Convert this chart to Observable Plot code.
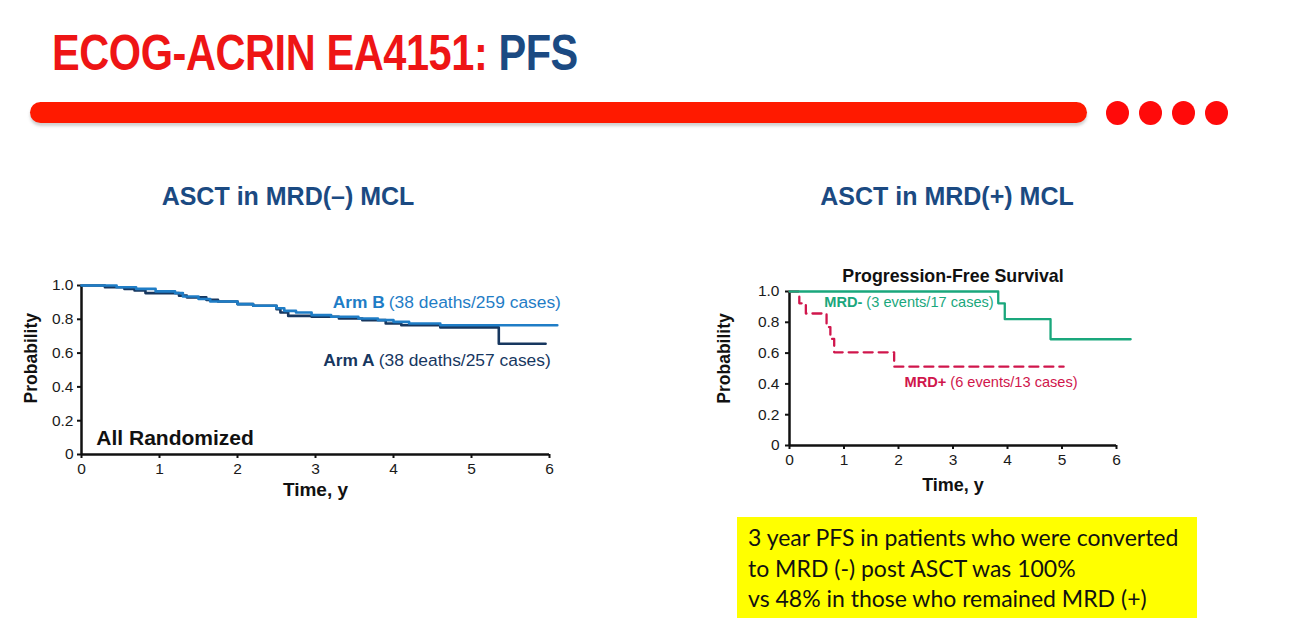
<!DOCTYPE html>
<html>
<head>
<meta charset="utf-8">
<script src="https://cdn.jsdelivr.net/npm/d3@7"></script>
<script src="https://cdn.jsdelivr.net/npm/@observablehq/plot@0.6"></script>
<style>
  html, body { margin: 0; padding: 0; background: #fff; }
  body { width: 1290px; height: 636px; position: relative; overflow: hidden; font-family: "Liberation Sans", Arial, sans-serif; }
  #title { position: absolute; left: 52px; top: 24px; font-family: "Liberation Sans", Arial, sans-serif; font-weight: bold; font-size: 50px; color: #ee1515; white-space: nowrap; letter-spacing: -0.5px; transform: scaleX(0.83); transform-origin: left center; }
  #title .pfs { color: #1b4a82; }
  #bar { position: absolute; left: 30px; top: 102px; width: 1057px; height: 21px; border-radius: 11px; background: #ff1a00; box-shadow: 0 3px 3px rgba(120,120,120,0.35); }
  .dot { position: absolute; top: 101px; width: 23px; height: 24px; border-radius: 50%; background: #ff0a0a; }
  .sub { position: absolute; top: 182px; font-weight: bold; font-size: 25px; color: #1b4a82; white-space: nowrap; transform: translateX(-50%); }
  #left { position: absolute; left: 20px; top: 265px; }
  #right { position: absolute; left: 700px; top: 250px; }
  #note { position: absolute; left: 737px; top: 517px; width: 460px; height: 101px; background: #ffff00; box-sizing: border-box; padding: 5px 0 0 11px; font-family: Lato, "Liberation Sans", sans-serif; font-size: 23px; line-height: 30.5px; color: #111; }
  svg g[aria-label$="tick label"] text { font-size: 15.5px !important; }
</style>
</head>
<body>
<div id="title">ECOG-ACRIN EA4151: <span class="pfs">PFS</span></div>
<div id="bar"></div>
<div class="dot" style="left:1106px"></div>
<div class="dot" style="left:1139px"></div>
<div class="dot" style="left:1172px"></div>
<div class="dot" style="left:1205px"></div>
<div class="sub" style="left:288px">ASCT in MRD(–) MCL</div>
<div class="sub" style="left:947px">ASCT in MRD(+) MCL</div>
<div id="left"></div>
<div id="right"></div>
<div id="note">3 year PFS in patients who were converted<br>to MRD (-) post ASCT was 100%<br>vs 48% in those who remained MRD (+)</div>
<script>
// ---- Data: left panel (All Randomized) ----
const armA_t = [0, 0.3, 0.55, 0.68, 0.82, 1.25, 1.35, 1.6, 1.75, 2.0, 2.2, 2.5, 2.55, 2.65, 2.95, 3.3, 3.6, 3.9, 4.1, 4.6, 5.35, 5.95];
const armA_s = [1.0, 0.99, 0.98, 0.97, 0.955, 0.94, 0.93, 0.915, 0.905, 0.89, 0.88, 0.86, 0.84, 0.82, 0.815, 0.805, 0.795, 0.775, 0.765, 0.752, 0.655, 0.655];
const armB_t = [0, 0.45, 0.7, 0.95, 1.2, 1.3, 1.5, 1.65, 2.0, 2.2, 2.5, 2.6, 2.75, 2.95, 3.2, 3.55, 3.8, 4.0, 4.2, 4.6, 6.1];
const armB_s = [1.0, 0.99, 0.98, 0.965, 0.955, 0.935, 0.92, 0.905, 0.89, 0.88, 0.865, 0.85, 0.84, 0.825, 0.815, 0.805, 0.795, 0.785, 0.775, 0.765, 0.765];
// ---- Data: right panel (Progression-Free Survival) ----
const mrdNeg_t = [0, 3.83, 3.95, 4.79, 6.26];
const mrdNeg_s = [1.0, 0.923, 0.82, 0.69, 0.69];
const mrdPos_t = [0, 0.18, 0.3, 0.68, 0.75, 0.82, 1.92, 5.03];
const mrdPos_s = [1.0, 0.923, 0.857, 0.769, 0.692, 0.605, 0.512, 0.512];
// ---- Tick labels ----
const xTicks = [0, 1, 2, 3, 4, 5, 6];
const yTicks = [0, 0.2, 0.4, 0.6, 0.8, 1.0];
const yTickLabel = d => d === 0 ? "0" : d.toFixed(1);

const toRows = (t, s) => t.map((v, i) => ({t: v, s: s[i]}));

const armBColor = "#1f7dc6", armAColor = "#17375f";
const negColor = "#1aa77c", posColor = "#d0164c";

function axes(yPad) {
  return [
    Plot.axisX({ticks: xTicks, tickFormat: d => String(d), tickSize: 4, tickPadding: 4, stroke: "#111", strokeWidth: 2, fill: "#1a1a1a", label: null}),
    Plot.axisY({ticks: yTicks, tickFormat: yTickLabel, tickSize: 4, tickPadding: yPad, stroke: "#111", strokeWidth: 2, fill: "#1a1a1a", label: null}),
    Plot.ruleX([0], {stroke: "#111", strokeWidth: 2.5}),
    Plot.ruleY([0], {x1: 0, x2: 6, stroke: "#111", strokeWidth: 2.5})
  ];
}

const left = Plot.plot({
  width: 560, height: 239,
  marginLeft: 61, marginRight: 31, marginTop: 20, marginBottom: 50,
  style: {fontFamily: "'Liberation Sans', Arial, sans-serif", fontSize: "15.5px", overflow: "visible"},
  x: {domain: [0, 6]},
  y: {domain: [0, 1]},
  marks: [
    ...axes(4),
    Plot.line(toRows(armA_t, armA_s), {x: "t", y: "s", curve: "step-after", stroke: armAColor, strokeWidth: 2.6}),
    Plot.line(toRows(armB_t, armB_s), {x: "t", y: "s", curve: "step-after", stroke: armBColor, strokeWidth: 2.6}),
    Plot.text(["Arm B"], {x: 3.94, y: 0.9, text: d => d, textAnchor: "end", fontWeight: "bold", fontSize: 17.4, fill: armBColor, dx: -4}),
    Plot.text(["(38 deaths/259 cases)"], {x: 3.94, y: 0.9, text: d => d, textAnchor: "start", fontSize: 17.4, fill: armBColor}),
    Plot.text(["Arm A"], {x: 3.81, y: 0.556, text: d => d, textAnchor: "end", fontWeight: "bold", fontSize: 17.4, fill: armAColor, dx: -4}),
    Plot.text(["(38 deaths/257 cases)"], {x: 3.81, y: 0.556, text: d => d, textAnchor: "start", fontSize: 17.4, fill: armAColor}),
    Plot.text(["All Randomized"], {x: 0.19, y: 0.095, text: d => d, textAnchor: "start", fontWeight: "bold", fontSize: 21, fill: "#111"}),
    Plot.text(["Probability"], {x: 0, y: 0.57, text: d => d, rotate: -90, dx: -50, fontWeight: "bold", fontSize: 17.5, fill: "#111"}),
    Plot.text(["Time, y"], {frameAnchor: "bottom", text: d => d, dy: 41, fontWeight: "bold", fontSize: 19, fill: "#111"})
  ]
});
document.getElementById("left").appendChild(left);

const right = Plot.plot({
  width: 446, height: 245,
  marginLeft: 89, marginRight: 30, marginTop: 41, marginBottom: 50,
  style: {fontFamily: "'Liberation Sans', Arial, sans-serif", fontSize: "15.5px", overflow: "visible"},
  x: {domain: [0, 6]},
  y: {domain: [0, 1]},
  marks: [
    ...axes(6),
    Plot.line(toRows(mrdPos_t, mrdPos_s), {x: "t", y: "s", curve: "step-after", stroke: posColor, strokeWidth: 2.3, strokeDasharray: "9,6"}),
    Plot.line(toRows(mrdNeg_t, mrdNeg_s), {x: "t", y: "s", curve: "step-after", stroke: negColor, strokeWidth: 2.3}),
    Plot.text(["MRD-"], {x: 1.41, y: 0.93, text: d => d, textAnchor: "end", fontWeight: "bold", fontSize: 14.6, fill: negColor, dx: -4}),
    Plot.text(["(3 events/17 cases)"], {x: 1.41, y: 0.93, text: d => d, textAnchor: "start", fontSize: 14.6, fill: negColor}),
    Plot.text(["MRD+"], {x: 2.95, y: 0.41, text: d => d, textAnchor: "end", fontWeight: "bold", fontSize: 14.6, fill: posColor, dx: -4}),
    Plot.text(["(6 events/13 cases)"], {x: 2.95, y: 0.41, text: d => d, textAnchor: "start", fontSize: 14.6, fill: posColor}),
    Plot.text(["Progression-Free Survival"], {frameAnchor: "top", text: d => d, dy: -22, fontWeight: "bold", fontSize: 17.8, fill: "#111"}),
    Plot.text(["Probability"], {x: 0, y: 0.565, text: d => d, rotate: -90, dx: -65, fontWeight: "bold", fontSize: 17.5, fill: "#111"}),
    Plot.text(["Time, y"], {frameAnchor: "bottom", text: d => d, dy: 45, fontWeight: "bold", fontSize: 18, fill: "#111"})
  ]
});
document.getElementById("right").appendChild(right);
</script>
</body>
</html>
